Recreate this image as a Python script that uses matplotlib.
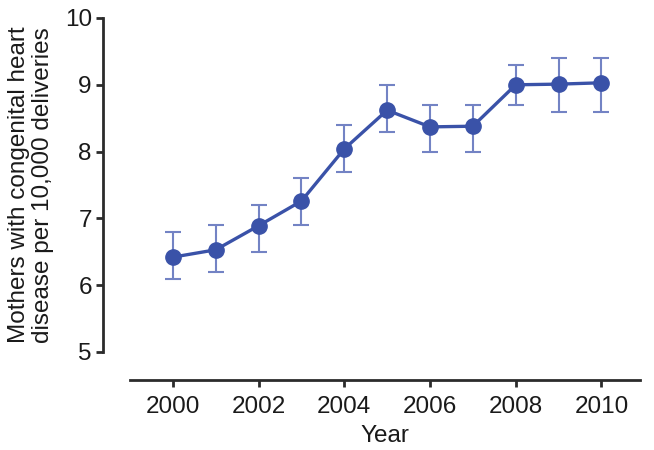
import matplotlib
matplotlib.use("Agg")
import matplotlib.pyplot as plt

years = [2000, 2001, 2002, 2003, 2004, 2005, 2006, 2007, 2008, 2009, 2010]
rate = [6.42, 6.53, 6.89, 7.26, 8.04, 8.62, 8.37, 8.38, 9.00, 9.01, 9.03]
lower = [6.10, 6.20, 6.50, 6.90, 7.70, 8.30, 8.00, 8.00, 8.70, 8.60, 8.60]
upper = [6.80, 6.90, 7.20, 7.60, 8.40, 9.00, 8.70, 8.70, 9.30, 9.40, 9.40]
xticks = [2000, 2002, 2004, 2006, 2008, 2010]
yticks = [5, 6, 7, 8, 9, 10]

plt.rcParams['font.family'] = ['Liberation Sans', 'DejaVu Sans']

fig = plt.figure(figsize=(6.54, 4.5), dpi=100)
ax = fig.add_axes([130/654, 1-352/450, 510/654, 334/450])

yerr = [[r - l for r, l in zip(rate, lower)], [u - r for r, u in zip(rate, upper)]]
ax.errorbar(years, rate, yerr=yerr, fmt='none', ecolor='#7383c4', elinewidth=1.5,
            capsize=6, capthick=1.5, zorder=2)
ax.plot(years, rate, color='#3a52a8', lw=2.4, marker='o', ms=11, zorder=3)

ax.set_xlim(1999.0, 2010.9)
ax.set_ylim(5, 10)
ax.set_xticks(xticks)
ax.set_yticks(yticks)

for s in ['top', 'right']:
    ax.spines[s].set_visible(False)
ax.spines['left'].set_position(('outward', 19.5))
ax.spines['bottom'].set_position(('outward', 20))
for s in ['left', 'bottom']:
    ax.spines[s].set_linewidth(2.0)
    ax.spines[s].set_color('#2b2b2b')

ax.tick_params(axis='both', direction='out', length=5, width=2.0, color='#2b2b2b',
               labelsize=17.5, labelcolor='#1a1a1a')
ax.tick_params(axis='x', pad=7)
ax.tick_params(axis='y', pad=3)

ax.set_xlabel('Year', fontsize=17.5, color='#1a1a1a', labelpad=5)
ax.set_ylabel('Mothers with congenital heart\ndisease per 10,000 deliveries', fontsize=17.5,
              color='#1a1a1a', labelpad=8, linespacing=1.1)

fig.savefig('out.png', dpi=100)
